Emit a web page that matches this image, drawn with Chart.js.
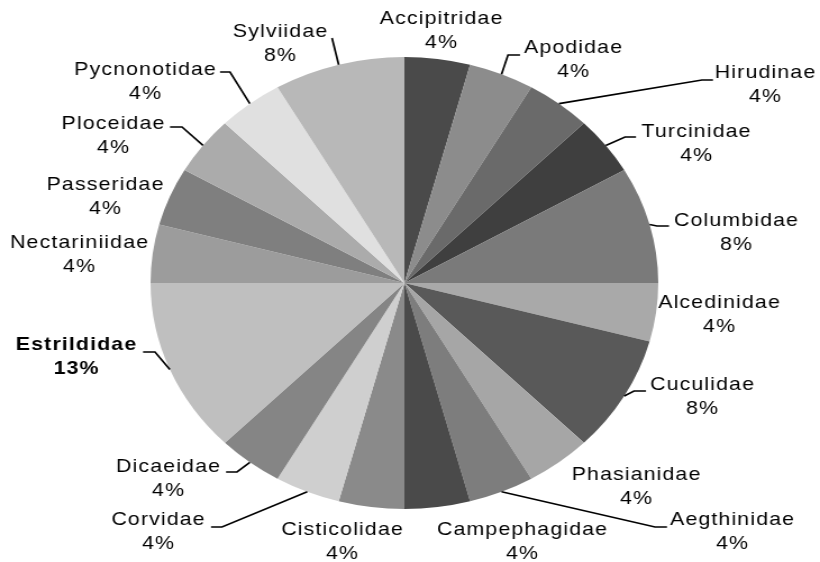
<!DOCTYPE html>
<html>
<head>
<meta charset="utf-8">
<script src="https://cdn.jsdelivr.net/npm/chart.js@4.4.1/dist/chart.umd.min.js"></script>
<style>
    html, body { margin: 0; padding: 0; background: #ffffff; }
    /* the reference pie is an ellipse, so the whole chart is stretched sideways */
    #wrap {
        width: 730px;
        height: 562px;
        transform: scaleX(1.12329);
        transform-origin: 0 0;
    }
</style>
</head>
<body>
<div id="wrap"><canvas id="graficoFamilias"></canvas></div>
<script>
// Data: number of species per family
const families = [
    'Accipitridae', 'Apodidae', 'Hirudinae', 'Turcinidae', 'Columbidae',
    'Alcedinidae', 'Cuculidae', 'Phasianidae', 'Aegthinidae', 'Campephagidae',
    'Cisticolidae', 'Corvidae', 'Dicaeidae', 'Estrildidae', 'Nectariniidae',
    'Passeridae', 'Ploceidae', 'Pycnonotidae', 'Sylviidae'
];
const counts = [1, 1, 1, 1, 2, 1, 2, 1, 1, 1, 1, 1, 1, 3, 1, 1, 1, 1, 2];
const greys = [
    '#4a4a4a', '#8c8c8c', '#6a6a6a', '#3f3f3f', '#7a7a7a',
    '#a9a9a9', '#595959', '#a6a6a6', '#7d7d7d', '#4a4a4a',
    '#8a8a8a', '#cfcfcf', '#858585', '#bfbfbf', '#9c9c9c',
    '#7f7f7f', '#ababab', '#e0e0e0', '#b8b8b8'
];
const boldFamilies = ['Estrildidae'];

// Label placement in screen pixels: [centre x, first line y, leader elbow, leader end]
const SX = 820 / 730;
const labelLayout = [
    [441, 19, null, null],
    [573, 48, [508, 55], [520, 55]],
    [765, 73, [702, 80], [713, 80]],
    [696, 132, [625, 137], [636, 137]],
    [736, 221, [657, 226], [669, 226]],
    [719, 303, null, null],
    [702, 385, [634, 391], [646, 391]],
    [636, 475, null, null],
    [732, 520, [655, 527], [667, 527]],
    [522, 530, null, null],
    [342, 530, null, null],
    [158, 520, [222, 527], [211, 527]],
    [168, 467, [237, 472], [226, 472]],
    [76, 345, [155, 352], [143, 352]],
    [79, 243, null, null],
    [105, 185, null, null],
    [113, 124, [182, 127], [170, 127]],
    [145, 70, [230, 72], [220, 72]],
    [280, 32, [332, 38], [332, 38]]
];

const labelsPlugin = {
    id: 'rotulos',
    afterDraw(chart) {
        const ctx = chart.ctx;
        const total = counts.reduce((a, b) => a + b, 0);
        const arcs = chart.getDatasetMeta(0).data;

        ctx.save();
        ctx.strokeStyle = '#000000';
        ctx.lineWidth = 1.7;
        ctx.fillStyle = '#000000';
        ctx.textAlign = 'center';
        ctx.textBaseline = 'middle';
        ctx.letterSpacing = '1px';

        arcs.forEach((arc, i) => {
            const [cx, cy, elbow, end] = labelLayout[i];

            // leader line from the middle of the slice edge
            if (elbow) {
                const mid = (arc.startAngle + arc.endAngle) / 2;
                ctx.beginPath();
                ctx.moveTo(arc.x + arc.outerRadius * Math.cos(mid), arc.y + arc.outerRadius * Math.sin(mid));
                ctx.lineTo(elbow[0] / SX, elbow[1]);
                ctx.lineTo(end[0] / SX, end[1]);
                ctx.stroke();
            }

            const bold = boldFamilies.includes(families[i]);
            ctx.font = (bold ? 'bold ' : '') + '19px "Liberation Sans", Arial, sans-serif';
            const pct = Math.round(counts[i] / total * 100) + '%';
            ctx.fillText(families[i], cx / SX + 0.5, cy);
            ctx.fillText(pct, cx / SX + 0.5, cy + 24);
        });
        ctx.restore();
    }
};

const ctxPie = document.getElementById('graficoFamilias').getContext('2d');
new Chart(ctxPie, {
    type: 'pie',
    data: {
        labels: families,
        datasets: [{
            data: counts,
            backgroundColor: greys,
            borderWidth: 0,
            hoverOffset: 0
        }]
    },
    options: {
        responsive: true,
        maintainAspectRatio: false,
        animation: false,
        events: [],
        layout: { padding: { top: 57, bottom: 53, left: 134, right: 144 } },
        plugins: {
            legend: { display: false },
            tooltip: { enabled: false }
        }
    },
    plugins: [labelsPlugin]
});
</script>
</body>
</html>
